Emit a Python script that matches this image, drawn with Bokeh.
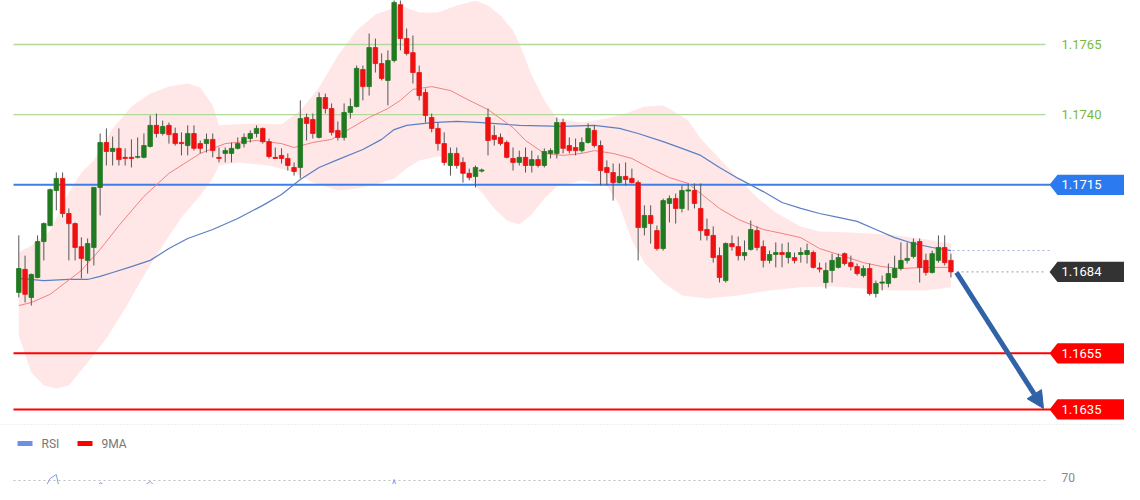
from bokeh.plotting import figure
from bokeh.models import Range1d, Arrow, NormalHead, ColumnDataSource
from bokeh.core.properties import value
from bokeh.embed import file_html
from bokeh.resources import INLINE

# ---------------- data ----------------
opens = [1.16767,1.16849,1.16749,1.16820,1.16948,1.17005,1.17130,1.17173,1.17048,1.17012,
1.16930,1.16881,1.16927,1.17141,1.17301,1.17269,1.17280,1.17248,1.17248,1.17248,
1.17248,1.17287,1.17362,1.17333,1.17362,1.17333,1.17301,1.17290,1.17333,1.17297,
1.17297,1.17312,1.17248,1.17262,1.17262,1.17280,1.17297,1.17315,1.17333,1.17351,
1.17304,1.17248,1.17255,1.17244,1.17212,1.17212,1.17390,1.17383,1.17319,1.17461,
1.17422,1.17344,1.17319,1.17408,1.17429,1.17561,1.17500,1.17639,1.17582,1.17522,
1.17593,1.17792,1.17671,1.17621,1.17550,1.17479,1.17390,1.17351,1.17297,1.17219,
1.17262,1.17230,1.17191,1.17180,1.17199,1.17390,1.17326,1.17319,1.17301,1.17244,
1.17230,1.17248,1.17219,1.17240,1.17219,1.17262,1.17262,1.17372,1.17290,1.17283,
1.17272,1.17301,1.17344,1.17290,1.17212,1.17194,1.17158,1.17180,1.17173,1.17158,
1.16998,1.17041,1.16987,1.16923,1.17084,1.17101,1.17066,1.17128,1.17130,1.17066,
1.16991,1.16970,1.16898,1.16809,1.16941,1.16930,1.16898,1.16920,1.16987,1.16930,
1.16881,1.16902,1.16909,1.16891,1.16891,1.16902,1.16902,1.16909,1.16854,1.16802,
1.16845,1.16856,1.16905,1.16873,1.16859,1.16827,1.16852,1.16763,1.16800,1.16799,
1.16820,1.16852,1.16881,1.16895,1.16948,1.16881,1.16838,1.16881,1.16927,1.16881]
highs = [1.16970,1.16898,1.16834,1.16970,1.17016,1.17137,1.17194,1.17194,1.17066,1.17016,
1.16963,1.16959,1.17141,1.17333,1.17351,1.17322,1.17351,1.17280,1.17312,1.17319,
1.17333,1.17397,1.17404,1.17379,1.17372,1.17354,1.17337,1.17362,1.17362,1.17308,
1.17333,1.17333,1.17283,1.17283,1.17301,1.17319,1.17333,1.17344,1.17362,1.17354,
1.17315,1.17283,1.17280,1.17262,1.17230,1.17451,1.17404,1.17404,1.17479,1.17475,
1.17440,1.17376,1.17440,1.17458,1.17575,1.17575,1.17689,1.17671,1.17618,1.17629,
1.17828,1.17828,1.17707,1.17682,1.17575,1.17493,1.17404,1.17372,1.17337,1.17283,
1.17283,1.17248,1.17208,1.17219,1.17208,1.17422,1.17362,1.17333,1.17308,1.17283,
1.17272,1.17283,1.17272,1.17255,1.17280,1.17280,1.17390,1.17386,1.17319,1.17315,
1.17319,1.17369,1.17362,1.17308,1.17237,1.17226,1.17226,1.17230,1.17208,1.17166,
1.17077,1.17077,1.17005,1.17101,1.17112,1.17119,1.17148,1.17155,1.17155,1.17155,
1.17030,1.17002,1.16927,1.16945,1.16970,1.16966,1.16952,1.17023,1.17002,1.16952,
1.16916,1.16945,1.16941,1.16945,1.16909,1.16927,1.16941,1.16916,1.16873,1.16873,
1.16905,1.16905,1.16909,1.16898,1.16870,1.16863,1.16870,1.16809,1.16827,1.16870,
1.16898,1.16945,1.16945,1.16959,1.16959,1.16905,1.16916,1.16970,1.16970,1.16905]
lows = [1.16749,1.16731,1.16720,1.16817,1.16881,1.17002,1.17059,1.17034,1.16881,1.16881,
1.16817,1.16834,1.16863,1.17041,1.17219,1.17219,1.17219,1.17219,1.17212,1.17244,
1.17244,1.17283,1.17319,1.17326,1.17297,1.17290,1.17255,1.17255,1.17272,1.17262,
1.17265,1.17248,1.17230,1.17230,1.17230,1.17276,1.17283,1.17301,1.17319,1.17297,
1.17244,1.17242,1.17226,1.17201,1.17183,1.17173,1.17308,1.17315,1.17315,1.17404,
1.17326,1.17308,1.17308,1.17386,1.17426,1.17451,1.17468,1.17550,1.17522,1.17433,
1.17586,1.17629,1.17611,1.17511,1.17451,1.17372,1.17337,1.17272,1.17219,1.17183,
1.17208,1.17158,1.17166,1.17141,1.17194,1.17255,1.17290,1.17290,1.17244,1.17201,
1.17219,1.17194,1.17194,1.17212,1.17212,1.17244,1.17244,1.17262,1.17262,1.17255,
1.17265,1.17297,1.17283,1.17148,1.17148,1.17094,1.17155,1.17148,1.17155,1.16881,
1.16970,1.16941,1.16916,1.16916,1.17016,1.17012,1.17052,1.17059,1.17066,1.16952,
1.16952,1.16873,1.16802,1.16802,1.16916,1.16881,1.16881,1.16916,1.16916,1.16856,
1.16870,1.16856,1.16856,1.16870,1.16870,1.16873,1.16870,1.16852,1.16838,1.16781,
1.16802,1.16852,1.16863,1.16845,1.16827,1.16820,1.16756,1.16749,1.16774,1.16785,
1.16817,1.16845,1.16870,1.16888,1.16802,1.16827,1.16834,1.16873,1.16863,1.16820]
closes = [1.16852,1.16760,1.16831,1.16948,1.17012,1.17133,1.17173,1.17048,1.17012,1.16927,
1.16888,1.16941,1.17141,1.17301,1.17269,1.17280,1.17240,1.17244,1.17244,1.17251,
1.17290,1.17362,1.17333,1.17358,1.17329,1.17297,1.17297,1.17333,1.17280,1.17280,
1.17312,1.17272,1.17244,1.17272,1.17280,1.17297,1.17319,1.17333,1.17351,1.17304,
1.17251,1.17244,1.17244,1.17219,1.17198,1.17386,1.17369,1.17333,1.17461,1.17422,
1.17337,1.17319,1.17408,1.17429,1.17565,1.17500,1.17639,1.17582,1.17529,1.17593,
1.17800,1.17671,1.17618,1.17550,1.17468,1.17397,1.17351,1.17297,1.17230,1.17262,
1.17219,1.17191,1.17176,1.17212,1.17203,1.17308,1.17312,1.17297,1.17248,1.17230,
1.17248,1.17219,1.17240,1.17219,1.17269,1.17272,1.17372,1.17280,1.17272,1.17272,
1.17301,1.17351,1.17290,1.17201,1.17194,1.17158,1.17180,1.17169,1.17158,1.16998,
1.17041,1.17012,1.16923,1.17094,1.17101,1.17066,1.17130,1.17132,1.17084,1.16987,
1.16970,1.16891,1.16820,1.16941,1.16930,1.16898,1.16909,1.16991,1.16927,1.16881,
1.16902,1.16909,1.16902,1.16909,1.16881,1.16909,1.16916,1.16856,1.16850,1.16845,
1.16881,1.16891,1.16870,1.16859,1.16834,1.16852,1.16763,1.16799,1.16804,1.16834,
1.16852,1.16881,1.16888,1.16945,1.16856,1.16838,1.16905,1.16927,1.16873,1.16840]

ma_fast_idx = [0,2,5,10,13,16,20,24,29,33,38,42,44,47,50,53,56,59,61,63,66,69,72,75,79,81,84,87,90,92,95,98,101,104,107,109,112,115,119,122,125,128,132,135,138,141,145,149]
ma_fast = [1.16720,1.16731,1.16760,1.16845,1.16920,1.17005,1.17109,1.17191,1.17262,1.17297,1.17308,1.17297,1.17283,1.17301,1.17312,1.17351,1.17390,1.17422,1.17451,1.17490,1.17500,1.17486,1.17451,1.17418,1.17354,1.17308,1.17262,1.17255,1.17262,1.17272,1.17262,1.17244,1.17208,1.17176,1.17155,1.17119,1.17066,1.17027,1.16991,1.16977,1.16962,1.16923,1.16895,1.16873,1.16859,1.16852,1.16856,1.16856]

ma_slow_idx = [0,4,8,11,13,15,18,21,24,27,31,35,39,42,45,48,51,55,58,60,62,66,70,74,80,87,92,96,99,103,106,109,112,115,119,122,125,128,131,134,137,140,143,146,149]
ma_slow = [1.16817,1.16809,1.16813,1.16813,1.16824,1.16838,1.16859,1.16881,1.16923,1.16959,1.16991,1.17030,1.17077,1.17116,1.17169,1.17212,1.17240,1.17276,1.17312,1.17347,1.17362,1.17372,1.17376,1.17372,1.17362,1.17358,1.17362,1.17351,1.17333,1.17304,1.17280,1.17255,1.17212,1.17173,1.17126,1.17087,1.17066,1.17048,1.17034,1.17020,1.16991,1.16962,1.16941,1.16927,1.16916]

band_up_idx = [0,2,5,8,10,12,15,18,21,24,27,29,31,32,34,38,42,45,48,51,54,57,61,64,67,70,73,75,77,79,80,82,84,86,90,94,97,100,103,105,107,109,112,115,118,121,125,128,133,139,144,149]
band_up = [1.16909,1.16934,1.16987,1.17123,1.17194,1.17237,1.17351,1.17429,1.17475,1.17500,1.17511,1.17497,1.17433,1.17362,1.17365,1.17369,1.17365,1.17415,1.17497,1.17611,1.17700,1.17757,1.17789,1.17764,1.17764,1.17789,1.17807,1.17789,1.17753,1.17700,1.17654,1.17540,1.17451,1.17386,1.17372,1.17386,1.17404,1.17429,1.17433,1.17408,1.17379,1.17315,1.17244,1.17173,1.17105,1.17052,1.17002,1.16984,1.16980,1.16973,1.16959,1.16941]

band_lo_idx = [0,2,4,6,8,11,14,17,20,23,26,29,31,32,35,40,44,47,51,54,57,60,62,64,67,70,72,74,76,78,80,82,84,86,90,94,96,98,100,103,106,110,115,120,125,130,135,140,145,149]
band_lo = [1.16613,1.16482,1.16435,1.16425,1.16435,1.16517,1.16603,1.16710,1.16827,1.16934,1.17034,1.17112,1.17173,1.17219,1.17230,1.17219,1.17194,1.17158,1.17130,1.17137,1.17151,1.17173,1.17208,1.17237,1.17251,1.17237,1.17173,1.17123,1.17066,1.17023,1.17009,1.17044,1.17101,1.17144,1.17166,1.17148,1.17077,1.16952,1.16873,1.16802,1.16756,1.16745,1.16756,1.16774,1.16785,1.16788,1.16781,1.16774,1.16774,1.16785]

green_levels = [1.1765, 1.1740]
blue_levels = [1.1715]
red_levels = [1.1655, 1.1635]

rsi_idx = [0,2,3,4,5,6,7,8,10,11,12,13,14,15,16,18,19,21,22,23,25,27,28,30,33,36,37,38,41,44,45,46,47,48,49,51,53,54,55,56,57,58,59,60,61,62,64,70,75,80,86,90,95,99,103,110,113,118,125,129,136,143,147,149]
rsi = [50,56,62,65,71,73,58,50,44,52,62,69,67,67,64,64,65,69.5,66.5,68,61.5,63,58,52,55,62,62.5,58,50,47,61.5,58,55,65,60,55,58,66,59,67.5,62,58,60,70.5,60,55,45,38,52,45,52,48,38,30,40,32,38,40,42,35,33,50,52,42]
ma9_idx = [0,5,6,7,9,11,13,14,16,18,20,21,23,25,27,29,31,33,40,50,57,59,60,61,62,63,65,75,90,110,130,149]
ma9 = [55,57,60,61.5,61,61,61,60.5,59.5,63,66,66.3,66,65.5,64.5,62.5,60,58,54,55,58,61,62,62.5,62,60,57,48,45,38,38,42]
rsi_levels = [70]

# ---------------- layout helpers (pixel positions -> data units) ----------------
STEP = 6.256
X_FIRST = 18.3
W, H = 1124, 484
def hx(X):
    return (X - X_FIRST) / STEP
def vy(Y):
    return 1.178067 - 0.00003562 * Y

GREEN = "#217a21"
RED = "#ee1111"

p = figure(width=W, height=H, output_backend="svg", toolbar_location=None,
           x_range=Range1d(hx(0), hx(W)), y_range=Range1d(vy(H), vy(0)),
           x_axis_location=None, y_axis_location=None, min_border=0)
p.grid.visible = False
p.outline_line_color = None
p.background_fill_color = "white"
p.border_fill_color = "white"
p.extra_y_ranges = {"rsi": Range1d(70 - (H - 480) / 2, 70 + 480 / 2)}

# Bollinger band
bx = band_up_idx + band_lo_idx[::-1]
by = band_up + band_lo[::-1]
p.patch(bx, by, fill_color="#ff2020", fill_alpha=0.11, line_color=None)

# divider + rsi 70 line
p.segment(x0=[hx(0)], y0=[vy(424)], x1=[hx(W)], y1=[vy(424)], line_color="#d2e2e2", line_dash="1 2", line_width=1)
p.segment(x0=[hx(13)] * len(rsi_levels), y0=rsi_levels, x1=[hx(1047)] * len(rsi_levels), y1=rsi_levels,
          line_color="#bdbdbd", line_dash="2 3", y_range_name="rsi")

# horizontal levels
p.segment(x0=[hx(13)] * 2, y0=green_levels, x1=[hx(1045)] * 2, y1=green_levels, line_color="#b3d99a", line_width=1.3)
p.segment(x0=[hx(13)], y0=blue_levels, x1=[hx(1050)], y1=blue_levels, line_color="#3d7fe6", line_width=2)
p.segment(x0=[hx(13)] * 2, y0=red_levels, x1=[hx(1050)] * 2, y1=red_levels, line_color="#ff0000", line_width=2)

# moving averages
p.line(ma_slow_idx, ma_slow, line_color="#5a7fc4", line_width=1.2)
p.line(ma_fast_idx, ma_fast, line_color="#f38080", line_width=1)

# dotted guide lines
p.segment(x0=[hx(952)], y0=[ma_slow[-1]], x1=[hx(1050)], y1=[ma_slow[-1]], line_color="#9fb0d8", line_dash="2 3")
p.segment(x0=[hx(956)], y0=[closes[-1]], x1=[hx(1045)], y1=[closes[-1]], line_color="#999999", line_dash="2 3")

# candles
idx = list(range(len(opens)))
cols = [GREEN if c >= o else RED for o, c in zip(opens, closes)]
src = ColumnDataSource(dict(x=idx, o=opens, h=highs, l=lows, c=closes,
                            top=[max(o, c) for o, c in zip(opens, closes)],
                            bot=[min(o, c) for o, c in zip(opens, closes)], col=cols))
p.segment(x0="x", y0="h", x1="x", y1="l", source=src, line_color="#555555", line_width=1)
p.vbar(x="x", width=0.72, top="top", bottom="bot", source=src, fill_color="col", line_color="col", line_width=0.8)

# arrow
ac = "#2f62a6"
p.add_layout(Arrow(end=NormalHead(size=17, fill_color=ac, line_color=ac),
                   x_start=hx(956), y_start=vy(272), x_end=hx(1043), y_end=vy(408),
                   line_color=ac, line_width=5))

# price tags
half = 0.00036
tip = hx(1049)
body = hx(1057)
right = hx(1140)
tag_prices = blue_levels + [closes[-1]] + red_levels
tag_cols = ["#2b7af0", "#333333", "#ff0000", "#ff0000"]
xs = [[tip, body, right, right, body] for _ in tag_prices]
ys = [[y, y + half, y + half, y - half, y - half] for y in tag_prices]
p.patches(xs, ys, fill_color=tag_cols, line_color=None)

font = value("Roboto")
p.text(x=[hx(1061)] * len(tag_prices), y=tag_prices, text=["%.4f" % v for v in tag_prices],
       text_color="white", text_font=font, text_font_size="13px", text_baseline="middle")
p.text(x=[hx(1061)] * 2, y=green_levels, text=["%.4f" % v for v in green_levels],
       text_color="#7cb83a", text_font=font, text_font_size="13px", text_baseline="middle")

# RSI panel
p.line(rsi_idx, rsi, line_color="#7f9ee8", line_width=1, y_range_name="rsi")
p.line(ma9_idx, ma9, line_color="#ff1a1a", line_width=1.5, y_range_name="rsi")
p.text(x=[hx(1061)], y=rsi_levels, text=["70"], text_color="#888888", text_font=font,
       text_font_size="12px", text_baseline="bottom", y_offset=1, y_range_name="rsi")

# legend
p.quad(left=[hx(17), hx(77)], right=[hx(32), hx(92)], top=[vy(440.5)] * 2, bottom=[vy(445.5)] * 2,
       fill_color=["#6d8fe6", "#ff0000"], line_color=None)
p.text(x=[hx(41), hx(101)], y=[vy(443)] * 2, text=["RSI", "9MA"], text_color="#777777",
       text_font=font, text_font_size="12px", text_baseline="middle")

open("out.html", "w").write(file_html(p, INLINE))
